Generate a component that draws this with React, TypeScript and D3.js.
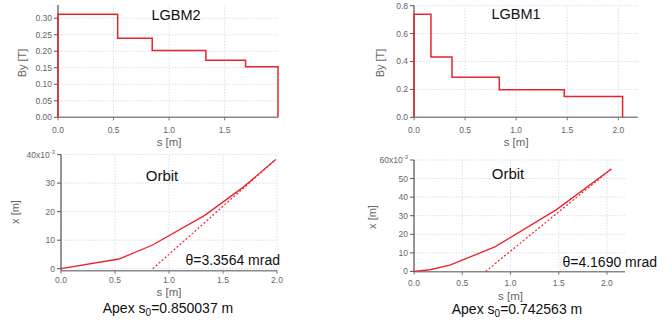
import React from 'react';
import * as d3 from 'd3';

// magnet field steps (edges in m, By in T)
const lgbm2Edges = [0, 0.537, 0.848, 1.331, 1.688, 1.98];
const lgbm2By = [0.312, 0.239, 0.202, 0.173, 0.153];
const lgbm1Edges = [0, 0.166, 0.372, 0.835, 1.471, 2.042];
const lgbm1By = [0.738, 0.432, 0.287, 0.198, 0.149];

// orbit (s in m, x in 1e-3 m)
const orbit2S = [0, 0.537, 0.848, 1.331, 1.688, 1.988];
const orbit2X = [0, 3.4, 8.3, 18.7, 28.6, 38.3];
const orbit1S = [0, 0.166, 0.372, 0.838, 1.477, 2.046];
const orbit1X = [0, 0.9, 3.4, 13.2, 33.3, 55.2];

// asymptote lines
const asym2S = [0.850037, 1.988];
const asym2X = [0, 38.3];
const asym1S = [0.742563, 2.046];
const asym1X = [0, 55.2];

const fieldTicks2 = [0, 0.05, 0.1, 0.15, 0.2, 0.25, 0.3];
const fieldTicks1 = [0, 0.2, 0.4, 0.6, 0.8];
const sTicks2 = [0, 0.5, 1.0, 1.5];
const sTicks = [0, 0.5, 1.0, 1.5, 2.0];
const orbitTicks2 = [0, 10, 20, 30, 40];
const orbitTicks1 = [0, 10, 20, 30, 40, 50, 60];

const RED = '#e8232b';
const FONT = 'Liberation Sans, Arial, sans-serif';
const GRID = '#d9ddef';
const TICKC = '#666';

const stepPoints = (edges, vals) => {
  const pts: [number, number][] = [[edges[0], 0]];
  vals.forEach((v, i) => {
    pts.push([edges[i], v]);
    pts.push([edges[i + 1], v]);
  });
  pts.push([edges[edges.length - 1], 0]);
  return pts;
};

const Frame = ({ x, y, xTicks, yTicks, yFmt, topLabel, sLabelY, xTickY }) => {
  const [x0, x1] = x.range();
  const [y0, y1] = y.range();
  return (
    <g fontFamily={FONT}>
      {yTicks.map((t) => (
        <line key={'gy' + t} x1={x0} x2={x1} y1={y(t)} y2={y(t)} stroke={GRID} strokeDasharray="1.5,1.5" />
      ))}
      {xTicks.map((t) => (
        <line key={'gx' + t} x1={x(t)} x2={x(t)} y1={y0} y2={y1} stroke={GRID} strokeDasharray="1.5,1.5" />
      ))}
      <line x1={x0} x2={x1} y1={y0} y2={y0} stroke="#888" strokeWidth={1.5} />
      <line x1={x0} x2={x0} y1={y0} y2={y1} stroke="#555" strokeWidth={1.2} />
      {yTicks.map((t, i) => (
        <g key={'ty' + t}>
          <line x1={x0 - 4} x2={x0} y1={y(t)} y2={y(t)} stroke="#555" />
          {i === yTicks.length - 1 && topLabel ? (
            <text x={x0 - 6} y={y(t)} dy="0.35em" textAnchor="end" fontSize={8.5} fill={TICKC}>
              {topLabel}
              <tspan dy={-4} fontSize={6}>-3</tspan>
            </text>
          ) : (
            <text x={x0 - 6} y={y(t)} dy="0.35em" textAnchor="end" fontSize={8.5} fill={TICKC}>
              {yFmt(t)}
            </text>
          )}
        </g>
      ))}
      {xTicks.map((t) => (
        <g key={'tx' + t}>
          <line x1={x(t)} x2={x(t)} y1={y0} y2={y0 + 3} stroke="#777" />
          <text x={x(t)} y={xTickY} dy="0.35em" textAnchor="middle" fontSize={8.5} fill={TICKC}>
            {d3.format('.1f')(t)}
          </text>
        </g>
      ))}
      <text x={x(1.0)} y={sLabelY} dy="0.35em" textAnchor="middle" fontSize={11.5} fill={TICKC}>
        s [m]
      </text>
    </g>
  );
};

const YLabel = ({ x, y, label }) => (
  <text
    transform={`translate(${x},${y}) rotate(-90)`}
    textAnchor="middle"
    dy="0.35em"
    fontSize={11}
    fill={TICKC}
    fontFamily={FONT}
  >
    {label}
  </text>
);

const App = () => {
  const line = (x, y) => d3.line<[number, number]>().x((d) => x(d[0])).y((d) => y(d[1]));

  // top-left: LGBM2 field
  const xTL = d3.scaleLinear().domain([0, 1.98]).range([58, 278]);
  const yTL = d3.scaleLinear().domain([0, 0.34]).range([117.3, 5]);
  // top-right: LGBM1 field
  const xTR = d3.scaleLinear().domain([0, 2.19]).range([414, 637.7]);
  const yTR = d3.scaleLinear().domain([0, 0.8]).range([117.3, 5.7]);
  // bottom-left: LGBM2 orbit
  const xBL = d3.scaleLinear().domain([0, 2.0]).range([61, 277]);
  const yBL = d3.scaleLinear().domain([-0.7, 40]).range([270.7, 154.6]);
  // bottom-right: LGBM1 orbit
  const xBR = d3.scaleLinear().domain([0, 2.187]).range([414, 625]);
  const yBR = d3.scaleLinear().domain([-0.2, 60]).range([271.8, 160]);

  const zip = (a, b) => a.map((v, i) => [v, b[i]] as [number, number]);

  return (
    <svg width={672} height={320} style={{ position: 'absolute', left: 0, top: 0, background: '#fff' }}>
      <rect width={672} height={320} fill="#fff" />

      <Frame x={xTL} y={yTL} xTicks={sTicks2} yTicks={fieldTicks2} yFmt={d3.format('.2f')} topLabel={null} sLabelY={141.5} xTickY={130} />
      <path d={line(xTL, yTL)(stepPoints(lgbm2Edges, lgbm2By)) ?? ''} fill="none" stroke={RED} strokeWidth={1.5} />
      <YLabel x={22} y={63} label="By [T]" />
      <text x={176} y={15} dy="0.35em" textAnchor="middle" fontSize={14.5} fontFamily={FONT} fill="#111">LGBM2</text>

      <Frame x={xTR} y={yTR} xTicks={sTicks} yTicks={fieldTicks1} yFmt={d3.format('.1f')} topLabel={null} sLabelY={141.5} xTickY={130} />
      <path d={line(xTR, yTR)(stepPoints(lgbm1Edges, lgbm1By)) ?? ''} fill="none" stroke={RED} strokeWidth={1.5} />
      <YLabel x={380} y={63} label="By [T]" />
      <text x={516} y={14} dy="0.35em" textAnchor="middle" fontSize={14.5} fontFamily={FONT} fill="#111">LGBM1</text>

      <Frame x={xBL} y={yBL} xTicks={sTicks} yTicks={orbitTicks2} yFmt={d3.format('d')} topLabel="40x10" sLabelY={292} xTickY={280.5} />
      <path d={line(xBL, yBL)(zip(asym2S, asym2X)) ?? ''} fill="none" stroke={RED} strokeWidth={1.2} strokeDasharray="2,2" />
      <path d={line(xBL, yBL)(zip(orbit2S, orbit2X)) ?? ''} fill="none" stroke={RED} strokeWidth={1.3} />
      <YLabel x={15} y={212} label="x [m]" />
      <text x={162} y={176} dy="0.35em" textAnchor="middle" fontSize={15} fontFamily={FONT} fill="#111">Orbit</text>
      <text x={280} y={260} dy="0.35em" textAnchor="end" fontSize={14} fontFamily={FONT} fill="#111">θ=3.3564 mrad</text>
      <text x={168} y={308} dy="0.35em" textAnchor="middle" fontSize={14} fontFamily={FONT} fill="#111">
        Apex s<tspan dy={3} fontSize={10}>0</tspan><tspan dy={-3}>=0.850037 m</tspan>
      </text>

      <Frame x={xBR} y={yBR} xTicks={sTicks} yTicks={orbitTicks1} yFmt={d3.format('d')} topLabel="60x10" sLabelY={295.5} xTickY={283.5} />
      <path d={line(xBR, yBR)(zip(asym1S, asym1X)) ?? ''} fill="none" stroke={RED} strokeWidth={1.2} strokeDasharray="2,2" />
      <path d={line(xBR, yBR)(zip(orbit1S, orbit1X)) ?? ''} fill="none" stroke={RED} strokeWidth={1.3} />
      <YLabel x={372} y={217} label="x [m]" />
      <text x={508} y={174} dy="0.35em" textAnchor="middle" fontSize={15} fontFamily={FONT} fill="#111">Orbit</text>
      <text x={657} y={262} dy="0.35em" textAnchor="end" fontSize={14} fontFamily={FONT} fill="#111">θ=4.1690 mrad</text>
      <text x={517} y={309} dy="0.35em" textAnchor="middle" fontSize={14} fontFamily={FONT} fill="#111">
        Apex s<tspan dy={3} fontSize={10}>0</tspan><tspan dy={-3}>=0.742563 m</tspan>
      </text>
    </svg>
  );
};

export default App;
